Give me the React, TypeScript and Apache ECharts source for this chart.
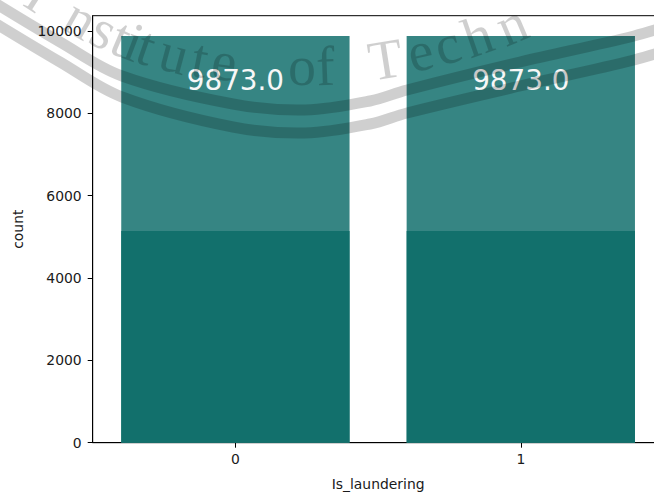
import React, { useEffect, useRef } from 'react';
import * as echarts from 'echarts';

// ---- data ----
const categories = ['0', '1'];
const countValues = [9873, 9873];
const lowerValues = [5140, 5140];
const yTickValues = [0, 2000, 4000, 6000, 8000, 10000];
const yMax = 10366;

// ---- watermark decoration (style only) ----
const wmInnerBand = [
  [-10, 0], [60, 42], [122, 76], [233, 104], [305, 110], [370, 101],
  [407, 90], [520, 62], [634, 36], [680, 22],
];
const wmOuterBand = [
  [-10, 20], [60, 62], [122, 97], [233, 127], [305, 133], [370, 124],
  [407, 113], [520, 86], [634, 60], [680, 46],
];
// letter, x, baseline y, tilt in degrees
const wmLetters: [string, number, number, number][] = [
  ['I', 30, 8, -33], ['n', 73, 33, -30], ['s', 97, 45, -26], ['t', 115, 53, -23],
  ['i', 128, 58, -21], ['t', 141, 62, -19], ['u', 170, 70, -15], ['t', 197, 75, -11],
  ['e', 222, 78, -8], ['o', 302, 83, 0], ['f', 326, 83, 2],
  ['T', 388, 76, 9], ['e', 424, 68, 13], ['c', 452, 61, 16], ['h', 483, 52, 19], ['n', 518, 40, 23],
];
const WM_FILL = 'rgba(0,0,0,0.19)';

function buildWatermark(): any[] {
  const els: any[] = [];
  [wmInnerBand, wmOuterBand].forEach((pts) => {
    els.push({
      type: 'polyline',
      silent: true,
      z: 100,
      shape: { points: pts, smooth: 0.35 },
      style: { stroke: WM_FILL, lineWidth: 11, fill: null },
    });
  });
  wmLetters.forEach(([ch, x, y, deg]) => {
    els.push({
      type: 'text',
      silent: true,
      z: 100,
      x,
      y,
      rotation: (deg * Math.PI) / 180,
      style: {
        text: ch,
        x: 0,
        y: 11,
        fontFamily: 'Liberation Serif',
        fontSize: 56,
        fill: WM_FILL,
        align: 'center',
        verticalAlign: 'bottom',
      },
    });
  });
  return els;
}

const FONT = 'DejaVu Sans';
const TXT = '#1a1a1a';

export default function App() {
  const ref = useRef<HTMLDivElement>(null);
  useEffect(() => {
    document.body.style.margin = '0';
    document.body.style.overflow = 'hidden';
    if (!ref.current) return;
    const chart = echarts.init(ref.current, null, { renderer: 'svg' });
    chart.setOption({
      animation: false,
      backgroundColor: '#ffffff',
      grid: {
        left: 92.7,
        top: 15.7,
        right: 0.5,
        height: 427,
        show: true,
        borderColor: '#000',
        borderWidth: 1,
        backgroundColor: 'transparent',
        containLabel: false,
        outerBoundsMode: 'none',
      },
      xAxis: {
        type: 'category',
        data: categories,
        axisLine: { show: true, lineStyle: { color: '#000', width: 1 } },
        axisTick: { show: true, alignWithLabel: true, length: 5, lineStyle: { color: '#000', width: 1 } },
        axisLabel: { color: TXT, fontSize: 13.9, fontFamily: FONT, margin: 9 },
        splitLine: { show: false },
        name: 'Is_laundering',
        nameLocation: 'middle',
        nameGap: 34,
        nameTextStyle: { color: TXT, fontSize: 13.9, fontFamily: FONT },
      },
      yAxis: {
        type: 'value',
        min: 0,
        max: yMax,
        axisLine: { show: true, lineStyle: { color: '#000', width: 1 } },
        axisTick: { show: true, length: 5, customValues: yTickValues, lineStyle: { color: '#000', width: 1 } },
        axisLabel: {
          color: TXT,
          fontSize: 13.9,
          fontFamily: FONT,
          margin: 11,
          customValues: yTickValues,
          formatter: (v: number) => String(v),
        },
        splitLine: { show: false },
        name: 'count',
        nameLocation: 'middle',
        nameGap: 68,
        nameTextStyle: { color: TXT, fontSize: 13.9, fontFamily: FONT },
      },
      series: [
        {
          type: 'bar',
          data: countValues,
          barWidth: '80%',
          barGap: '-100%',
          itemStyle: { color: '#368583' },
          label: {
            show: true,
            position: ['50%', 44],
            align: 'center',
            verticalAlign: 'middle',
            color: '#f7f7f7',
            fontSize: 27.8,
            fontFamily: FONT,
            formatter: (p: any) => Number(p.value).toFixed(1),
          },
          z: 2,
        },
        {
          type: 'bar',
          data: lowerValues,
          barWidth: '80%',
          barGap: '-100%',
          itemStyle: { color: '#12706c' },
          z: 3,
        },
      ],
      graphic: buildWatermark(),
    });
    return () => chart.dispose();
  }, []);
  return <div ref={ref} style={{ width: 664, height: 492 }} />;
}
